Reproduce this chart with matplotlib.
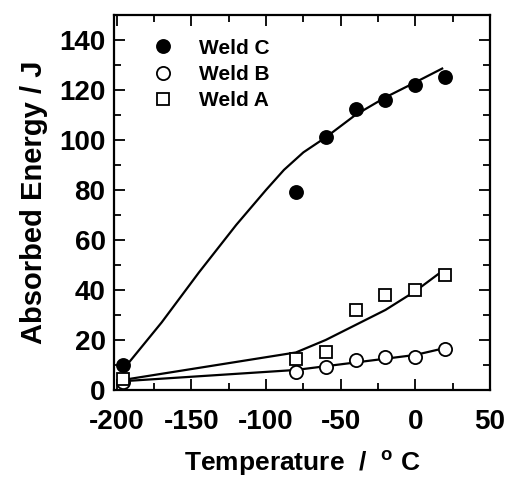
import matplotlib
matplotlib.use("Agg")
import matplotlib.pyplot as plt
from matplotlib.ticker import MultipleLocator

plt.rcParams['font.family'] = ['Liberation Sans', 'DejaVu Sans']
plt.rcParams['font.weight'] = 'bold'
plt.rcParams['axes.unicode_minus'] = False

# Measured data
temp = [-196, -80, -60, -40, -20, 0, 20]
weld_c = [10, 79, 101, 112.5, 116, 122, 125]
weld_b = [3, 7, 9, 12, 13, 13, 16.5]
weld_a = [4.5, 12.5, 15, 32, 38, 40, 46]

# Fitted curves
fit_c_t = [-196, -170, -145, -120, -100, -88, -75, -60, -40, -20, 0, 18]
fit_c_e = [8, 27, 47, 66, 80, 88, 95, 101, 110, 117, 123, 128.5]
fit_b_t = [-196, -80, -60, -40, -20, 0, 18]
fit_b_e = [3.5, 8, 9.5, 11, 12.5, 14, 16.5]
fit_a_t = [-196, -80, -60, -40, -20, 0, 18]
fit_a_e = [4, 15, 20, 26, 32, 39.5, 47.5]

fig = plt.figure(figsize=(5.13, 4.93), dpi=100)
ax = fig.add_axes([0.222, 0.209, 0.733, 0.761])

lw = 1.6
ax.plot(fit_c_t, fit_c_e, color='black', lw=lw)
ax.plot(fit_b_t, fit_b_e, color='black', lw=lw)
ax.plot(fit_a_t, fit_a_e, color='black', lw=lw)

ax.plot(temp, weld_c, 'o', ms=9.5, mfc='black', mec='black', mew=1.2, label='Weld C', ls='none')
ax.plot(temp, weld_b, 'o', ms=9.5, mfc='white', mec='black', mew=1.3, label='Weld B', ls='none')
ax.plot(temp, weld_a, 's', ms=9, mfc='white', mec='black', mew=1.3, label='Weld A', ls='none')

ax.set_xlim(-202, 50)
ax.set_ylim(0, 150)
ax.xaxis.set_major_locator(MultipleLocator(50))
ax.xaxis.set_minor_locator(MultipleLocator(25))
ax.yaxis.set_major_locator(MultipleLocator(20))
ax.yaxis.set_minor_locator(MultipleLocator(10))
ax.tick_params(which='both', direction='in', top=True, right=True, width=1.3)
ax.tick_params(which='major', length=8, labelsize=20)
ax.tick_params(axis='x', which='major', pad=14)
ax.tick_params(axis='y', which='major', pad=6)
ax.tick_params(which='minor', length=5)
for lab in ax.get_xticklabels() + ax.get_yticklabels():
    lab.set_fontweight('bold')
for s in ax.spines.values():
    s.set_linewidth(1.6)

ax.set_xlabel('Temperature  /  $^{\\mathregular{o}}$ C', fontsize=19, fontweight='bold', labelpad=9)
ax.set_ylabel('Absorbed Energy / J', fontsize=21, fontweight='bold', labelpad=8)

leg = ax.legend(loc='upper left', bbox_to_anchor=(0.065, 0.975), frameon=False,
                prop={'size': 15, 'weight': 'bold'}, handlelength=1.0,
                handletextpad=1.2, labelspacing=0.35, borderpad=0.2)

fig.savefig('out.png', dpi=100)
